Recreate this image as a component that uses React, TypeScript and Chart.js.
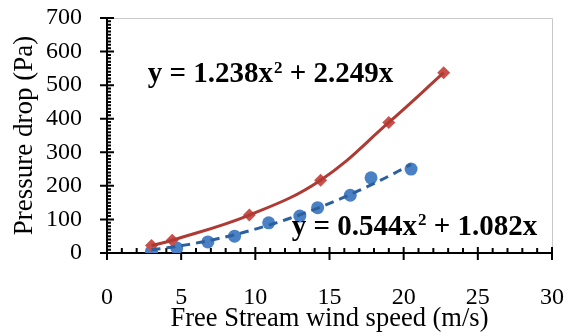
import { useEffect, useRef } from 'react';
import { Chart, registerables } from 'chart.js';

Chart.register(...registerables);

// ---- data ----
const redSpeed = [3.0, 4.4, 9.6, 14.4, 19.0, 22.7];
const redDrop = [22, 38, 113, 217, 389, 537];
const blueSpeed = [3.0, 4.7, 6.8, 8.6, 10.9, 13.0, 14.2, 16.4, 17.8, 20.5];
const blueDrop = [5, 15, 33, 50, 90, 110, 135, 172, 224, 250];
const xTickValues = [0, 5, 10, 15, 20, 25, 30];
const yTickValues = [0, 100, 200, 300, 400, 500, 600, 700];
const redEquation = ['y = 1.238x', '2', ' + 2.249x'];
const blueEquation = ['y = 0.544x', '2', ' + 1.082x'];
const redEquationAnchor = [2.75, 509];
const blueEquationAnchor = [12.45, 54];
const xTitle = 'Free Stream wind speed (m/s)';
const yTitle = 'Pressure drop (Pa)';

const SERIF = '"Liberation Serif", "Times New Roman", serif';

// least-squares trendline y = a x^2 + b x (intercept 0) of the blue series
function fitQuad(xs: number[], ys: number[]) {
  let s2 = 0, s3 = 0, s4 = 0, sxy = 0, sx2y = 0;
  xs.forEach((x, i) => {
    const y = ys[i];
    s2 += x * x; s3 += x * x * x; s4 += x * x * x * x;
    sxy += x * y; sx2y += x * x * y;
  });
  const det = s4 * s2 - s3 * s3;
  return {
    a: (sx2y * s2 - s3 * sxy) / det,
    b: (s4 * sxy - s3 * sx2y) / det,
  };
}

function trend(xs: number[], ys: number[]) {
  const { a, b } = fitQuad(xs, ys);
  const lo = Math.min(...xs);
  const hi = Math.max(...xs);
  const pts: { x: number; y: number }[] = [];
  const n = 60;
  for (let i = 0; i <= n; i++) {
    const x = lo + ((hi - lo) * i) / n;
    pts.push({ x, y: a * x * x + b * x });
  }
  return pts;
}

const excelAxes = {
  id: 'excelAxes',
  beforeDatasetsDraw(chart: any) {
    const { ctx, chartArea, scales } = chart;
    const { left, right, top, bottom } = chartArea;
    const xs = scales.x;
    const ys = scales.y;
    ctx.save();
    // light plot-area border (top / right)
    ctx.strokeStyle = '#C8C8C8';
    ctx.lineWidth = 1;
    ctx.beginPath();
    ctx.moveTo(left, Math.round(top) + 0.5);
    ctx.lineTo(Math.round(right) + 0.5, Math.round(top) + 0.5);
    ctx.lineTo(Math.round(right) + 0.5, bottom);
    ctx.stroke();

    ctx.strokeStyle = '#000';
    ctx.lineWidth = 2;
    ctx.beginPath();
    // y axis
    ctx.moveTo(left, top);
    ctx.lineTo(left, bottom + 1);
    for (let v = 0; v <= 700; v += 10) {
      const py = ys.getPixelForValue(v);
      if (v % 100 === 0) {
        ctx.moveTo(left - 7, py);
        ctx.lineTo(left + 7, py);
      } else {
        ctx.moveTo(left, py);
        ctx.lineTo(left + 4, py);
      }
    }
    // x axis
    ctx.moveTo(left - 1, bottom);
    ctx.lineTo(right, bottom);
    for (let v = 0; v <= 30; v += 1) {
      const px = xs.getPixelForValue(v);
      if (v % 5 === 0) {
        ctx.moveTo(px, bottom - 6);
        ctx.lineTo(px, bottom + 7);
      } else {
        ctx.moveTo(px, bottom);
        ctx.lineTo(px, bottom - 5);
      }
    }
    ctx.stroke();
    ctx.restore();
  },
  afterDraw(chart: any) {
    const { ctx, scales } = chart;
    const drawEq = (parts: string[], anchor: number[]) => {
      const px = scales.x.getPixelForValue(anchor[0]);
      const py = scales.y.getPixelForValue(anchor[1]);
      const size = 29;
      ctx.save();
      ctx.fillStyle = '#000';
      ctx.textBaseline = 'alphabetic';
      ctx.textAlign = 'left';
      let cx = px;
      ctx.font = `bold ${size}px ${SERIF}`;
      ctx.fillText(parts[0], cx, py);
      cx += ctx.measureText(parts[0]).width;
      ctx.font = `bold ${Math.round(size * 0.58)}px ${SERIF}`;
      ctx.fillText(parts[1], cx + 1, py - size * 0.33);
      cx += ctx.measureText(parts[1]).width + 1;
      ctx.font = `bold ${size}px ${SERIF}`;
      ctx.fillText(parts[2], cx, py);
      ctx.restore();
    };
    drawEq(redEquation, redEquationAnchor);
    drawEq(blueEquation, blueEquationAnchor);
  },
};

const noOverflow = (s: any) => {
  s.paddingTop = 0;
  s.paddingBottom = 0;
  s.paddingLeft = 0;
  s.paddingRight = 0;
};

export default function App() {
  const ref = useRef<HTMLCanvasElement | null>(null);

  useEffect(() => {
    const canvas = ref.current;
    if (!canvas) return;
    const redPts = redSpeed.map((x, i) => ({ x, y: redDrop[i] }));
    const bluePts = blueSpeed.map((x, i) => ({ x, y: blueDrop[i] }));
    const chart = new Chart(canvas, {
      type: 'scatter',
      data: {
        datasets: [
          {
            label: 'red line',
            data: redPts,
            showLine: true,
            tension: 0.4,
            borderColor: '#AE3A34',
            borderWidth: 3,
            pointRadius: 0,
            fill: false,
            order: 0,
          },
          {
            label: 'blue trend',
            data: trend(blueSpeed, blueDrop),
            showLine: true,
            borderColor: '#2C5F9E',
            borderWidth: 3,
            borderDash: [9, 6],
            pointRadius: 0,
            fill: false,
            order: 0,
          },
          {
            label: 'red',
            data: redPts,
            pointStyle: 'rectRot',
            pointRadius: 6.5,
            backgroundColor: '#C9504B',
            borderColor: '#C9504B',
            borderWidth: 0,
            order: 1,
          },
          {
            label: 'blue',
            data: bluePts,
            pointStyle: 'circle',
            pointRadius: 6.5,
            backgroundColor: '#4A81C4',
            borderColor: '#4A81C4',
            borderWidth: 0,
            order: 1,
          },
        ],
      },
      options: {
        responsive: false,
        animation: false,
        devicePixelRatio: 1,
        layout: { padding: { top: 18, right: 20, left: 0, bottom: 0 } },
        plugins: {
          legend: { display: false },
          tooltip: { enabled: false },
        },
        scales: {
          x: {
            type: 'linear',
            min: 0,
            max: 30,
            afterBuildTicks: (s: any) => {
              s.ticks = xTickValues.map((v) => ({ value: v }));
            },
            ticks: {
              color: '#000',
              font: { family: SERIF, size: 24 },
              padding: 30,
              autoSkip: false,
              maxRotation: 0,
            },
            grid: { display: false, drawTicks: false },
            border: { display: false },
            title: {
              display: true,
              text: xTitle,
              color: '#000',
              font: { family: SERIF, size: 26.5 },
              padding: { top: 0, bottom: 1 },
            },
            afterFit: (s: any) => {
              s.height = 83;
              noOverflow(s);
            },
          },
          y: {
            type: 'linear',
            min: 0,
            max: 700,
            afterBuildTicks: (s: any) => {
              s.ticks = yTickValues.map((v) => ({ value: v }));
            },
            ticks: {
              color: '#000',
              font: { family: SERIF, size: 24 },
              padding: 25,
              autoSkip: false,
            },
            grid: { display: false, drawTicks: false },
            border: { display: false },
            title: {
              display: true,
              text: yTitle,
              color: '#000',
              font: { family: SERIF, size: 27 },
              padding: { top: 9, bottom: 0 },
            },
            afterFit: (s: any) => {
              s.width = 107;
              noOverflow(s);
            },
          },
        },
      },
      plugins: [excelAxes],
    });
    return () => chart.destroy();
  }, []);

  return (
    <div style={{ position: 'absolute', left: 0, top: 0, width: 572, height: 336, background: '#fff' }}>
      <canvas ref={ref} width={572} height={336} />
    </div>
  );
}
